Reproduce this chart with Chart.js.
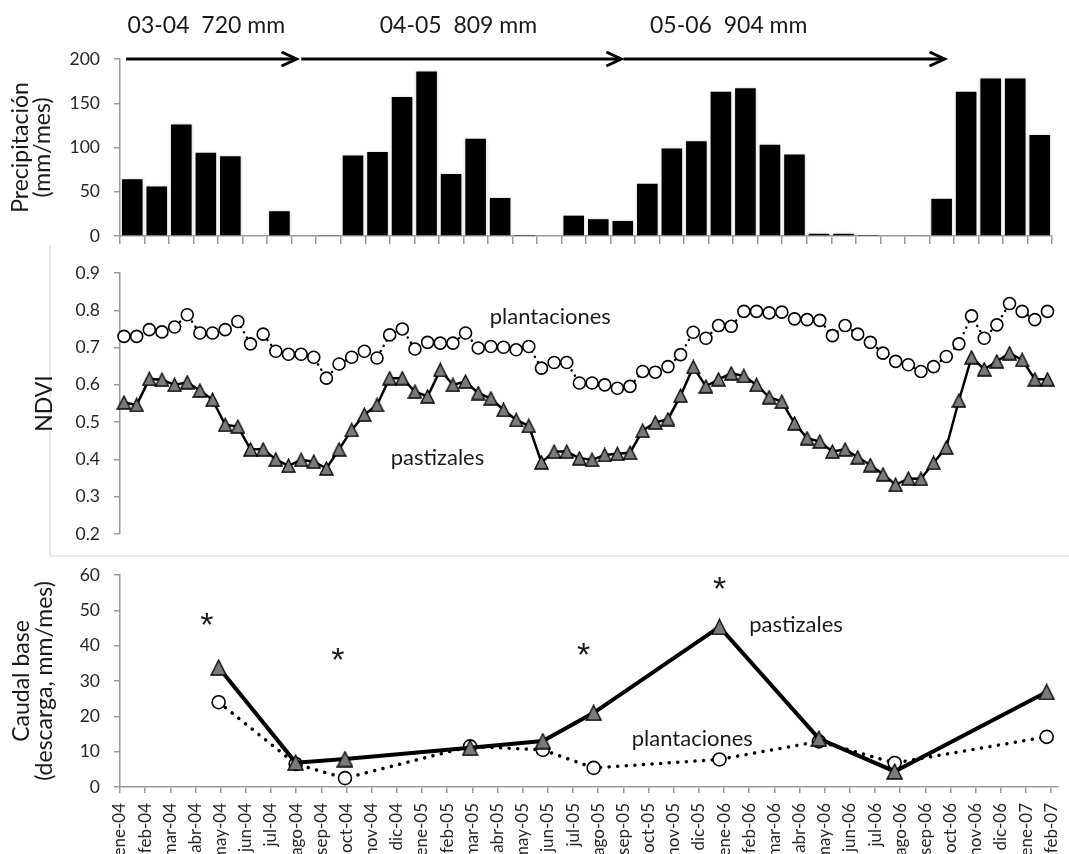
<!DOCTYPE html>
<html><head><meta charset="utf-8">
<script src="https://cdn.jsdelivr.net/npm/chart.js@4"></script>
<style>
html,body{margin:0;padding:0;background:#fff;}
#wrap{position:relative;width:1069px;height:854px;overflow:hidden;background:#fff;}
canvas{position:absolute;left:0;}
</style></head><body>
<div id="wrap">
<canvas id="c1" style="top:0px" width="1069" height="245"></canvas>
<canvas id="c2" style="top:245px" width="1069" height="313"></canvas>
<canvas id="c3" style="top:558px" width="1069" height="296"></canvas>
</div>
<script>
// ---------------- DATA ----------------
const months = ['ene-04','feb-04','mar-04','abr-04','may-04','jun-04','jul-04','ago-04','sep-04','oct-04','nov-04','dic-04',
  'ene-05','feb-05','mar-05','abr-05','may-05','jun-05','jul-05','ago-05','sep-05','oct-05','nov-05','dic-05',
  'ene-06','feb-06','mar-06','abr-06','may-06','jun-06','jul-06','ago-06','sep-06','oct-06','nov-06','dic-06',
  'ene-07','feb-07'];
const precipitacion = [64,56,126,94,90,0,28,0,0.6,91,95,157,186,70,110,43,0.4,0,23,19,17,59,99,107,
  163,167,103,92,2.5,2.5,0.4,0,0.8,42,163,178,178,114];
const precipTicks = [0,50,100,150,200];

const ndviPlantaciones = [0.730,0.730,0.748,0.742,0.755,0.788,0.739,0.739,0.748,0.770,0.710,0.736,0.690,0.682,0.682,0.674,0.618,0.656,0.674,
  0.690,0.672,0.734,0.750,0.696,0.714,0.712,0.712,0.739,0.699,0.703,0.701,0.694,0.703,0.645,0.660,0.660,0.605,0.605,
  0.600,0.591,0.596,0.636,0.634,0.649,0.681,0.741,0.725,0.759,0.757,0.797,0.797,0.793,0.795,0.777,0.775,0.773,0.732,
  0.759,0.736,0.714,0.685,0.663,0.654,0.636,0.649,0.676,0.710,0.785,0.725,0.761,0.818,0.797,0.775,0.797];
const ndviPastizales = [0.553,0.546,0.616,0.614,0.600,0.607,0.585,0.560,0.493,0.488,0.427,0.427,0.400,0.383,0.399,0.394,0.376,0.427,0.479,
  0.520,0.546,0.618,0.618,0.582,0.569,0.640,0.600,0.609,0.578,0.564,0.533,0.506,0.490,0.392,0.421,0.421,0.403,0.399,
  0.412,0.415,0.418,0.477,0.499,0.508,0.571,0.648,0.596,0.615,0.631,0.624,0.600,0.567,0.555,0.497,0.457,0.448,0.421,
  0.427,0.406,0.385,0.360,0.332,0.349,0.348,0.391,0.432,0.558,0.674,0.642,0.663,0.685,0.667,0.615,0.615];
const ndviTicks = [0.2,0.3,0.4,0.5,0.6,0.7,0.8,0.9];

// base-flow campaigns (position in months from ene-04)
const caudalFechas = [3.92,6.98,8.94,13.91,16.8,18.82,23.82,27.77,30.78,36.82];
const caudalPastizales = [33.8,6.9,7.9,11.1,13.0,21.0,45.3,13.7,4.4,26.9];
const caudalPlantaciones = [24.0,6.5,2.5,11.5,10.5,5.4,7.8,12.9,6.8,14.2];
const caudalTicks = [0,10,20,30,40,50,60];

// annotations
const periodos = ['03-04  720 mm','04-05  809 mm','05-06  904 mm'];
const periodoInicio = [0.25,7.39,20.53];
const periodoFin = [7.2,20.44,33.62];
const periodoCentro = [3.52,13.8,24.82];
const asteriscoX = [3.45,8.66,18.42,23.82];
const asteriscoY = [47.5,37.7,39.1,57.7];

// ---------------- STYLE ----------------
Chart.defaults.font.family = 'Lato';
Chart.defaults.color = '#262626';
const AXIS = '#9a9a9a';
const TXT = '#1a1a1a';
const TICKSIZE = 17.5;

function triMarker(size){
  const s = size + 2;
  const c = document.createElement('canvas');
  c.width = s; c.height = s;
  const g = c.getContext('2d');
  g.beginPath();
  g.moveTo(s/2, 1); g.lineTo(s-1, s-1); g.lineTo(1, s-1); g.closePath();
  g.fillStyle = '#7a7a7a'; g.fill();
  g.lineWidth = 1.3; g.strokeStyle = '#000'; g.stroke();
  return c;
}

function yAxis(ticks, min, max, fmt, title, titleLH, titlePad){
  return {
    position:'left', min:min, max:max,
    afterBuildTicks: s => { s.ticks = ticks.map(v => ({value:v})); },
    afterFit: s => { s.width = 120; s.paddingTop = 0; s.paddingBottom = 0; },
    grid:{drawOnChartArea:false, drawTicks:true, tickLength:6, color:AXIS, lineWidth:1.5},
    border:{display:true, color:AXIS, width:1.5},
    ticks:{font:{size:TICKSIZE}, padding:14, color:'#262626', callback: v => fmt(v)},
    title:{display:true, text:title, color:TXT, font:{size:23, lineHeight:titleLH}, padding:{top:titlePad, bottom:0}}
  };
}

const base = {responsive:false, animation:false, events:[],
  plugins:{legend:{display:false}, tooltip:{enabled:false}}};

// ---------------- TOP: precipitation ----------------
const topAnn = {
  id:'topAnn',
  beforeDatasetsDraw(chart){ const c = chart.ctx; c.save(); c.shadowColor = 'rgba(150,150,150,0.55)'; c.shadowBlur = 3; },
  afterDatasetsDraw(chart){ chart.ctx.restore(); },
  afterDraw(chart){
    const ctx = chart.ctx, xs = chart.scales.x, ys = chart.scales.y;
    const mpx = m => xs.left + m / months.length * (xs.right - xs.left);
    const yA = ys.getPixelForValue(precipTicks[precipTicks.length-1]);
    ctx.save();
    ctx.strokeStyle = '#000'; ctx.lineWidth = 3; ctx.lineJoin = 'miter';
    for (let i = 0; i < periodos.length; i++){
      const x0 = mpx(periodoInicio[i]), x1 = mpx(periodoFin[i]);
      ctx.beginPath(); ctx.moveTo(x0, yA); ctx.lineTo(x1 - 1, yA); ctx.stroke();
      ctx.beginPath(); ctx.moveTo(x1 - 15, yA - 7); ctx.lineTo(x1, yA); ctx.lineTo(x1 - 15, yA + 7); ctx.stroke();
    }
    ctx.font = '23px Lato'; ctx.fillStyle = TXT; ctx.textAlign = 'center'; ctx.textBaseline = 'middle';
    for (let i = 0; i < periodos.length; i++) ctx.fillText(periodos[i], mpx(periodoCentro[i]), 26);
    ctx.restore();
  }
};

new Chart(document.getElementById('c1'), {
  type:'bar',
  data:{labels:months, datasets:[{data:precipitacion, backgroundColor:'#000', borderWidth:0,
    barPercentage:0.84, categoryPercentage:1}]},
  options:Object.assign({}, base, {
    layout:{padding:{top:59, right:17, left:0, bottom:0}},
    scales:{
      x:{type:'category', offset:true,
        afterFit: s => { s.height = 9; s.paddingLeft = 0; s.paddingRight = 0; },
        grid:{offset:true, drawOnChartArea:false, drawTicks:true, tickLength:8, color:AXIS, lineWidth:1.5},
        border:{display:true, color:AXIS, width:1.5},
        ticks:{display:false}},
      y:yAxis(precipTicks, 0, 200, v => String(v), ['Precipitación','(mm/mes)'], '22px', 10)
    }
  }),
  plugins:[topAnn]
});

// ---------------- MIDDLE: NDVI ----------------
const midAnn = {
  id:'midAnn',
  beforeDraw(chart){
    const ctx = chart.ctx;
    ctx.save(); ctx.strokeStyle = '#e2e2e2'; ctx.lineWidth = 1.5;
    ctx.beginPath(); ctx.moveTo(50, 0); ctx.lineTo(50, 311); ctx.lineTo(1069, 311); ctx.stroke();
    ctx.restore();
  },
  afterDraw(chart){
    const ctx = chart.ctx, xs = chart.scales.x, ys = chart.scales.y;
    ctx.save(); ctx.font = '22px Lato'; ctx.fillStyle = TXT; ctx.textAlign = 'center'; ctx.textBaseline = 'middle';
    ctx.fillText('plantaciones', xs.getPixelForValue(33.7), ys.getPixelForValue(0.783));
    ctx.fillText('pastizales', xs.getPixelForValue(24.78), ys.getPixelForValue(0.403));
    ctx.restore();
  }
};

new Chart(document.getElementById('c2'), {
  type:'line',
  data:{datasets:[
    {data:ndviPastizales.map((v,i)=>({x:i,y:v})), borderColor:'#000', borderWidth:2.5, tension:0,
      pointStyle:triMarker(13), pointRadius:6, clip:false, order:0},
    {data:ndviPlantaciones.map((v,i)=>({x:i,y:v})), borderColor:'#000', borderWidth:2.5, tension:0,
      borderDash:[0.1,6], borderCapStyle:'round',
      pointStyle:'circle', pointRadius:6, pointBorderWidth:1.6, pointBackgroundColor:'#fff', pointBorderColor:'#000',
      clip:false, order:1}
  ]},
  options:Object.assign({}, base, {
    layout:{padding:{top:28, right:7, left:0, bottom:24}},
    scales:{
      x:{type:'linear', display:false, min:-0.316, max:74.03},
      y:yAxis(ndviTicks, 0.2, 0.9, v => v.toFixed(1), 'NDVI', '24px', 33)
    }
  }),
  plugins:[midAnn]
});

// ---------------- BOTTOM: base flow ----------------
const botAnn = {
  id:'botAnn',
  afterDraw(chart){
    const ctx = chart.ctx, xs = chart.scales.x, ys = chart.scales.y;
    ctx.save(); ctx.fillStyle = TXT; ctx.textAlign = 'center';
    ctx.font = '22px Lato'; ctx.textBaseline = 'middle';
    ctx.fillText('pastizales', xs.getPixelForValue(26.86), ys.getPixelForValue(45.9));
    ctx.fillText('plantaciones', xs.getPixelForValue(22.74), ys.getPixelForValue(13.7));
    ctx.font = '34px "Liberation Sans"'; ctx.textBaseline = 'alphabetic';
    const m = ctx.measureText('*');
    const off = (m.actualBoundingBoxAscent - m.actualBoundingBoxDescent) / 2;
    for (let i = 0; i < asteriscoX.length; i++)
      ctx.fillText('*', xs.getPixelForValue(asteriscoX[i]), ys.getPixelForValue(asteriscoY[i]) + off);
    ctx.restore();
  }
};

new Chart(document.getElementById('c3'), {
  type:'line',
  data:{datasets:[
    {data:caudalFechas.map((x,i)=>({x:x,y:caudalPastizales[i]})), borderColor:'#000', borderWidth:4, tension:0,
      pointStyle:triMarker(15), pointRadius:7, clip:false, order:0},
    {data:caudalFechas.map((x,i)=>({x:x,y:caudalPlantaciones[i]})), borderColor:'#000', borderWidth:3.5, tension:0,
      borderDash:[0.1,8.5], borderCapStyle:'round',
      pointStyle:'circle', pointRadius:6.5, pointBorderWidth:1.6, pointBackgroundColor:'#fff', pointBorderColor:'#000',
      clip:false, order:1}
  ]},
  options:Object.assign({}, base, {
    layout:{padding:{top:17, right:0, left:0, bottom:0}},
    scales:{
      x:{type:'linear', min:0, max:37.27,
        afterBuildTicks: s => { s.ticks = months.map((m,i)=>({value:i})); },
        afterFit: s => { s.height = 67; s.paddingLeft = 0; s.paddingRight = 0; },
        grid:{drawOnChartArea:false, drawTicks:true, tickLength:6, color:AXIS, lineWidth:1.5},
        border:{display:true, color:AXIS, width:1.5},
        ticks:{autoSkip:false, maxRotation:90, minRotation:90, padding:10, font:{size:17}, color:'#262626',
          callback: v => months[v]}},
      y:yAxis(caudalTicks, 0, 60, v => String(v), ['Caudal base','(descarga, mm/mes)'], '23px', 10.5)
    }
  }),
  plugins:[botAnn]
});
</script>
</body></html>
